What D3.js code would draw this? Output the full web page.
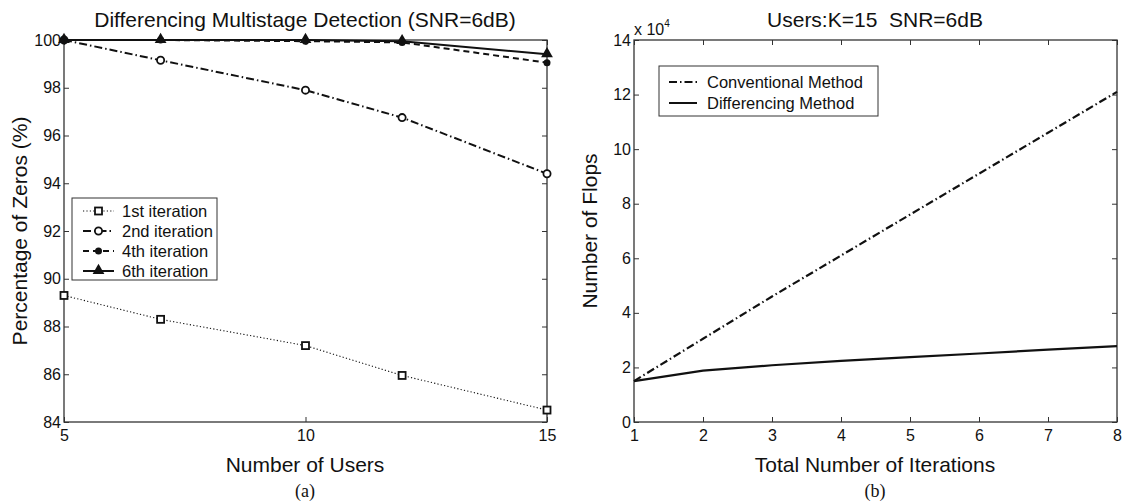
<!DOCTYPE html>
<html>
<head>
<meta charset="utf-8">
<script src="https://d3js.org/d3.v7.min.js"></script>
<style>
  body { margin: 0; background: #fff; }
  text { font-family: "Liberation Sans", Arial, sans-serif; fill: #111; }
</style>
</head>
<body>
<script>
// ---- data (a) ----
const users = [5, 7, 10, 12, 15];
const iter1 = [89.3, 88.3, 87.2, 85.95, 84.5];
const iter2 = [100, 99.15, 97.9, 96.75, 94.4];
const iter4 = [100, 100, 99.95, 99.9, 99.05];
const iter6 = [100, 100, 100, 99.95, 99.4];
const legendA = ["1st iteration", "2nd iteration", "4th iteration", "6th iteration"];
const yTicksA = [84, 86, 88, 90, 92, 94, 96, 98, 100];
const xTicksA = [5, 10, 15];

// ---- data (b) ----
const iterations = [1, 2, 3, 4, 5, 6, 7, 8];
const conventional = [1.5, 3.05, 4.6, 6.1, 7.6, 9.1, 10.6, 12.1];
const differencing = [1.5, 1.88, 2.08, 2.24, 2.38, 2.51, 2.65, 2.78];
const legendB = ["Conventional Method", "Differencing Method"];
const yTicksB = [0, 2, 4, 6, 8, 10, 12, 14];
const xTicksB = [1, 2, 3, 4, 5, 6, 7, 8];

const W = 1127, H = 502;
const svg = d3.select("body").append("svg").attr("width", W).attr("height", H);

// boxed axes, ticks pointing inward on all four sides
function frame(g, x, y, xt, yt) {
  const [x0, x1] = x.range(), [y0, y1] = y.range();
  const tl = 5, fmt = d3.format("d");
  g.append("g").attr("transform", `translate(0,${y0})`)
    .call(d3.axisBottom(x).tickValues(xt).tickFormat(fmt).tickSizeInner(-tl).tickSizeOuter(0).tickPadding(8))
    .call(a => a.select(".domain").remove());
  g.append("g").attr("transform", `translate(0,${y1})`)
    .call(d3.axisTop(x).tickValues(xt).tickSizeInner(-tl).tickSizeOuter(0).tickFormat(""))
    .call(a => a.select(".domain").remove());
  g.append("g").attr("transform", `translate(${x0},0)`)
    .call(d3.axisLeft(y).tickValues(yt).tickFormat(fmt).tickSizeInner(-tl).tickSizeOuter(0).tickPadding(3))
    .call(a => a.select(".domain").remove());
  g.append("g").attr("transform", `translate(${x1},0)`)
    .call(d3.axisRight(y).tickValues(yt).tickSizeInner(-tl).tickSizeOuter(0).tickFormat(""))
    .call(a => a.select(".domain").remove());
  g.selectAll(".tick line").attr("stroke", "#333");
  g.selectAll(".tick text").style("font-size", "16px").attr("fill", "#111")
    .style("font-family", "Liberation Sans, Arial, sans-serif");
  g.append("rect").attr("x", x0).attr("y", y1).attr("width", x1 - x0).attr("height", y0 - y1)
    .attr("fill", "none").attr("stroke", "#333").attr("stroke-width", 1.3);
}

// ================= (a) =================
const xA = d3.scaleLinear().domain([5, 15]).range([64, 547]);
const yA = d3.scaleLinear().domain([84, 100]).range([422, 40]);
const gA = svg.append("g");
frame(gA, xA, yA, xTicksA, yTicksA);

const seriesA = [
  {name: legendA[0], vals: iter1, dash: "1.2,2.2", w: 1.1, mark: "square"},
  {name: legendA[1], vals: iter2, dash: "8,3,1.5,3", w: 2, mark: "circle"},
  {name: legendA[2], vals: iter4, dash: "6,4", w: 2, mark: "dot"},
  {name: legendA[3], vals: iter6, dash: null, w: 2, mark: "triangle"}
];

function marker(g, type, cx, cy) {
  if (type === "square") {
    g.append("rect").attr("x", cx - 3.5).attr("y", cy - 3.5).attr("width", 7).attr("height", 7)
      .attr("fill", "#fff").attr("stroke", "#111").attr("stroke-width", 1.8);
  } else if (type === "circle") {
    g.append("circle").attr("cx", cx).attr("cy", cy).attr("r", 3.6)
      .attr("fill", "#fff").attr("stroke", "#111").attr("stroke-width", 1.8);
  } else if (type === "dot") {
    g.append("circle").attr("cx", cx).attr("cy", cy).attr("r", 3.5).attr("fill", "#111");
  } else if (type === "triangle") {
    g.append("path").attr("d", d3.symbol(d3.symbolTriangle, 60)()).attr("transform", `translate(${cx},${cy - 0.5})`)
      .attr("fill", "#111");
  }
}

const lineA = d3.line().x((d, i) => xA(users[i])).y(d => yA(d));
seriesA.forEach(s => {
  gA.append("path").datum(s.vals).attr("d", lineA).attr("fill", "none")
    .attr("stroke", "#111").attr("stroke-width", s.w).attr("stroke-dasharray", s.dash);
});
seriesA.forEach(s => {
  s.vals.forEach((v, i) => marker(gA, s.mark, xA(users[i]), yA(v)));
});

// legend (a)
const lgA = gA.append("g");
lgA.append("rect").attr("x", 72).attr("y", 198).attr("width", 145).attr("height", 82)
  .attr("fill", "#fff").attr("stroke", "#333").attr("stroke-width", 1);
seriesA.forEach((s, i) => {
  const ly = 211 + i * 20;
  lgA.append("line").attr("x1", 83).attr("x2", 114).attr("y1", ly).attr("y2", ly)
    .attr("stroke", "#111").attr("stroke-width", s.w).attr("stroke-dasharray", s.dash);
  marker(lgA, s.mark, 98.5, ly);
  lgA.append("text").attr("x", 122).attr("y", ly + 6).style("font-size", "16.5px").text(s.name);
});

gA.append("text").attr("x", 305).attr("y", 27).attr("text-anchor", "middle")
  .style("font-size", "21px").text("Differencing Multistage Detection (SNR=6dB)");
gA.append("text").attr("x", 305).attr("y", 472).attr("text-anchor", "middle")
  .style("font-size", "21px").text("Number of Users");
gA.append("text").attr("transform", "translate(27,231) rotate(-90)").attr("text-anchor", "middle")
  .style("font-size", "21px").text("Percentage of Zeros (%)");
gA.append("text").attr("x", 305).attr("y", 497).attr("text-anchor", "middle")
  .style("font-size", "18px").style("font-family", "Liberation Serif, serif").text("(a)");

// ================= (b) =================
const xB = d3.scaleLinear().domain([1, 8]).range([634, 1117]);
const yB = d3.scaleLinear().domain([0, 14]).range([422, 40]);
const gB = svg.append("g");
frame(gB, xB, yB, xTicksB, yTicksB);

const seriesB = [
  {name: legendB[0], vals: conventional, dash: "8,3,1.5,3"},
  {name: legendB[1], vals: differencing, dash: null}
];
const lineB = d3.line().x((d, i) => xB(iterations[i])).y(d => yB(d));
seriesB.forEach(s => {
  gB.append("path").datum(s.vals).attr("d", lineB).attr("fill", "none")
    .attr("stroke", "#111").attr("stroke-width", 2.2).attr("stroke-dasharray", s.dash);
});

const lgB = gB.append("g");
lgB.append("rect").attr("x", 659).attr("y", 66).attr("width", 219).attr("height", 50)
  .attr("fill", "#fff").attr("stroke", "#333").attr("stroke-width", 1);
seriesB.forEach((s, i) => {
  const ly = 82 + i * 21;
  lgB.append("line").attr("x1", 669).attr("x2", 697).attr("y1", ly).attr("y2", ly)
    .attr("stroke", "#111").attr("stroke-width", 2).attr("stroke-dasharray", s.dash);
  lgB.append("text").attr("x", 707).attr("y", ly + 6).style("font-size", "16.5px").text(s.name);
});

const expo = gB.append("text").attr("x", 634).attr("y", 35).style("font-size", "16px");
expo.append("tspan").text("x 10");
expo.append("tspan").attr("dy", -8).style("font-size", "10px").text("4");

gB.append("text").attr("x", 875).attr("y", 27).attr("text-anchor", "middle")
  .attr("xml:space", "preserve").style("font-size", "21px").text("Users:K=15  SNR=6dB");
gB.append("text").attr("x", 875).attr("y", 472).attr("text-anchor", "middle")
  .style("font-size", "21px").text("Total Number of Iterations");
gB.append("text").attr("transform", "translate(597,231) rotate(-90)").attr("text-anchor", "middle")
  .style("font-size", "21px").text("Number of Flops");
gB.append("text").attr("x", 875).attr("y", 497).attr("text-anchor", "middle")
  .style("font-size", "18px").style("font-family", "Liberation Serif, serif").text("(b)");
</script>
</body>
</html>
